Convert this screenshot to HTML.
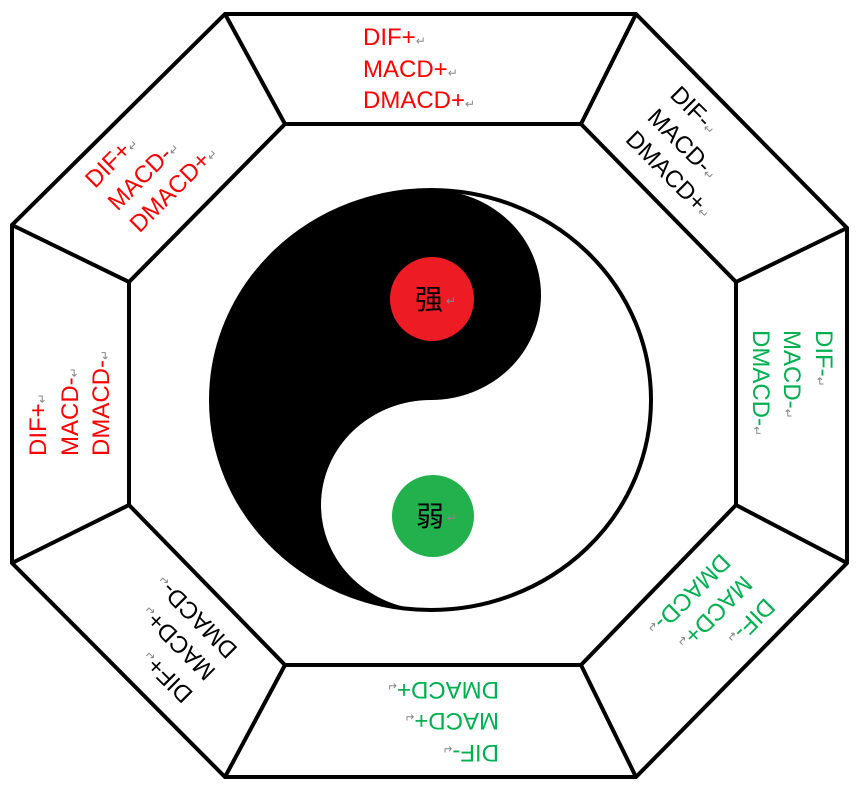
<!DOCTYPE html>
<html><head><meta charset="utf-8"><style>
html,body{margin:0;padding:0;background:#fff;}
svg{display:block;}
text{font-family:"Liberation Sans","Noto Sans CJK SC",sans-serif;}
</style></head><body>
<svg width="858" height="786" viewBox="0 0 858 786" xmlns="http://www.w3.org/2000/svg">
<rect width="858" height="786" fill="#fff"/>
<g fill="none" stroke="#000" stroke-width="4" stroke-linejoin="miter">
<polygon points="225,14 636,14 847,228 847,563 636,777 225,777 12,563 12,225"/>
<polygon points="285,124 581,124 736,282 736,505 581,665 285,665 129,505 129,282"/>
<line x1="225" y1="14" x2="285" y2="124"/>
<line x1="636" y1="14" x2="581" y2="124"/>
<line x1="847" y1="228" x2="736" y2="282"/>
<line x1="847" y1="563" x2="736" y2="505"/>
<line x1="636" y1="777" x2="581" y2="665"/>
<line x1="225" y1="777" x2="285" y2="665"/>
<line x1="12" y1="563" x2="129" y2="505"/>
<line x1="12" y1="225" x2="129" y2="282"/>
</g>
<ellipse cx="431" cy="400" rx="220" ry="210" fill="#fff" stroke="#000" stroke-width="4"/>
<path d="M431,190 A220,210 0 0 0 431,610 A110,105 0 0 1 431,400 A110,105 0 0 0 431,190 Z" fill="#000"/>
<circle cx="432" cy="299" r="42" fill="#ed1c24"/>
<circle cx="433" cy="516" r="41" fill="#22b14c"/>
<text x="429" y="309" font-size="28" fill="#000" text-anchor="middle">强</text>
<text x="446" y="305" font-size="12" fill="#888">↵</text>
<text x="430" y="526" font-size="28" fill="#000" text-anchor="middle">弱</text>
<text x="447" y="522" font-size="12" fill="#888">↵</text>

<g font-size="24">
<g transform="translate(431,69)" fill="#ff0000">
<text x="-68" y="-24">DIF+<tspan font-size="12" fill="#888">↵</tspan></text>
<text x="-68" y="8">MACD+<tspan font-size="12" fill="#888">↵</tspan></text>
<text x="-68" y="39">DMACD+<tspan font-size="12" fill="#888">↵</tspan></text>
</g>
<g transform="translate(700,161) rotate(45)" fill="#000">
<text x="-68" y="-24">DIF-<tspan font-size="12" fill="#888">↵</tspan></text>
<text x="-68" y="8">MACD-<tspan font-size="12" fill="#888">↵</tspan></text>
<text x="-68" y="39">DMACD+<tspan font-size="12" fill="#888">↵</tspan></text>
</g>
<g transform="translate(792,393) rotate(90)" fill="#00b050">
<text x="-63" y="-24">DIF-<tspan font-size="12" fill="#888">↵</tspan></text>
<text x="-63" y="8">MACD-<tspan font-size="12" fill="#888">↵</tspan></text>
<text x="-63" y="39">DMACD-<tspan font-size="12" fill="#888">↵</tspan></text>
</g>
<g transform="translate(700,628) rotate(135)" fill="#00b050">
<text x="-68" y="-24">DIF-<tspan font-size="12" fill="#888">↵</tspan></text>
<text x="-68" y="8">MACD+<tspan font-size="12" fill="#888">↵</tspan></text>
<text x="-68" y="39">DMACD-<tspan font-size="12" fill="#888">↵</tspan></text>
</g>
<g transform="translate(431,721) rotate(180)" fill="#00b050">
<text x="-68" y="-24">DIF-<tspan font-size="12" fill="#888">↵</tspan></text>
<text x="-68" y="8">MACD+<tspan font-size="12" fill="#888">↵</tspan></text>
<text x="-68" y="39">DMACD+<tspan font-size="12" fill="#888">↵</tspan></text>
</g>
<g transform="translate(163,628) rotate(225)" fill="#000">
<text x="-68" y="-24">DIF+<tspan font-size="12" fill="#888">↵</tspan></text>
<text x="-68" y="8">MACD+<tspan font-size="12" fill="#888">↵</tspan></text>
<text x="-68" y="39">DMACD-<tspan font-size="12" fill="#888">↵</tspan></text>
</g>
<g transform="translate(70,393) rotate(-90)" fill="#ff0000">
<text x="-63" y="-24">DIF+<tspan font-size="12" fill="#888">↵</tspan></text>
<text x="-63" y="8">MACD-<tspan font-size="12" fill="#888">↵</tspan></text>
<text x="-63" y="39">DMACD-<tspan font-size="12" fill="#888">↵</tspan></text>
</g>
<g transform="translate(160,158) rotate(-45)" fill="#ff0000">
<text x="-68" y="-24">DIF+<tspan font-size="12" fill="#888">↵</tspan></text>
<text x="-68" y="8">MACD-<tspan font-size="12" fill="#888">↵</tspan></text>
<text x="-68" y="39">DMACD+<tspan font-size="12" fill="#888">↵</tspan></text>
</g>
</g>
</svg>
</body></html>
